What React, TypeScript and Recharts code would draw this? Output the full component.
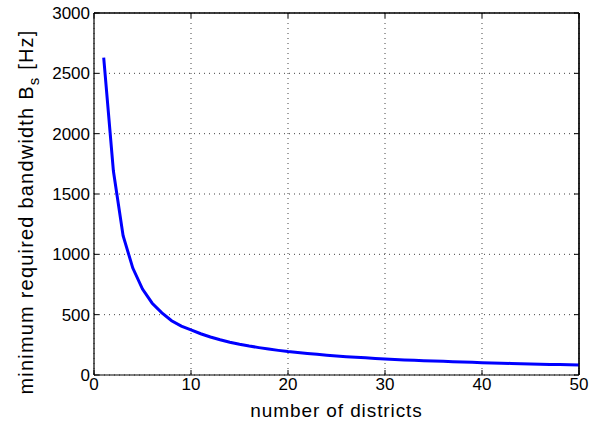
import { LineChart, Line, XAxis, YAxis, CartesianGrid, Label, ReferenceLine } from "recharts";

// number of districts (x) and the bandwidth (y, Hz)
const districts = [
  1, 2, 3, 4, 5, 6, 7, 8, 9, 10, 11, 12, 13, 14, 15, 16, 17, 18, 19, 20, 21, 22, 23, 24, 25,
  26, 27, 28, 29, 30, 31, 32, 33, 34, 35, 36, 37, 38, 39, 40, 41, 42, 43, 44, 45, 46, 47, 48, 49, 50,
];
const bandwidth = [
  2630, 1690, 1155, 886, 712, 595, 515, 450, 405, 374, 342, 315, 292, 272, 255, 240, 227, 215, 204, 194,
  186, 178, 171, 164, 158, 152, 147, 142, 137, 133, 129, 125, 122, 119, 116, 113, 110, 107, 105, 102,
  100, 98, 96, 94, 92, 90, 88, 86, 85, 83,
];
const xTicks = [0, 10, 20, 30, 40, 50];
const yTicks = [0, 500, 1000, 1500, 2000, 2500, 3000];

const FONT = "'Liberation Sans', Arial, Helvetica, sans-serif";

function YLabel(props: any) {
  const vb = props.viewBox;
  const cx = vb.x + 33;
  const cy = vb.y + vb.height / 2 + 18;
  return (
    <text
      x={cx}
      y={cy}
      transform={`rotate(-90 ${cx} ${cy})`}
      textAnchor="middle"
      fontFamily={FONT}
      fontSize={20}
      letterSpacing={1.2}
      fill="#000"
    >
      minimum required bandwidth B
      <tspan dy={6} fontSize={15}>s</tspan>
      <tspan dy={-6}> [Hz]</tspan>
    </text>
  );
}

export default function App() {
  const data = districts.map((d, i) => ({ districts: d, bandwidth: bandwidth[i] }));
  const axisLine = { stroke: "#000", strokeWidth: 1.2 };
  const tickStyle = { fill: "#000", fontSize: 17, fontFamily: FONT };

  return (
    <div style={{ position: "absolute", left: 0, top: 0, background: "#fff" }}>
      <LineChart width={598} height={424} data={data} margin={{ top: -7, right: -1, left: 0, bottom: 0 }}>
        <CartesianGrid stroke="#444" strokeDasharray="1 4" />
        <XAxis
          dataKey="districts"
          type="number"
          domain={[0, 50]}
          ticks={xTicks}
          height={49}
          axisLine={axisLine}
          tickLine={{ stroke: "#000" }}
          tickSize={-5}
          tickMargin={8}
          tick={tickStyle}
        >
          <Label
            value="number of districts"
            position="insideBottom"
            offset={7}
            style={{ fill: "#000", fontSize: 19, fontFamily: FONT, letterSpacing: 0.9 }}
          />
        </XAxis>
        <XAxis
          xAxisId="top"
          dataKey="districts"
          orientation="top"
          type="number"
          domain={[0, 50]}
          ticks={xTicks}
          height={20}
          axisLine={axisLine}
          tickLine={{ stroke: "#000" }}
          tickSize={-5}
          tickFormatter={() => ""}
        />
        <YAxis
          type="number"
          domain={[0, 3000]}
          ticks={yTicks}
          width={94}
          axisLine={axisLine}
          tickLine={{ stroke: "#000" }}
          tickSize={-5}
          tickMargin={9}
          tick={tickStyle}
        >
          <Label content={<YLabel />} />
        </YAxis>
        <YAxis
          yAxisId="right"
          orientation="right"
          type="number"
          domain={[0, 3000]}
          ticks={yTicks}
          width={20}
          axisLine={axisLine}
          tickLine={{ stroke: "#000" }}
          tickSize={-5}
          tickFormatter={() => ""}
        />
        {/* box edges, in case the mirrored axes are not drawn */}
        <ReferenceLine y={3000} stroke="#000" strokeWidth={1.2} />
        <ReferenceLine x={50} stroke="#000" strokeWidth={1.2} />
        {/* invisible twin so the mirrored top/right axes get a domain */}
        <Line
          xAxisId="top"
          yAxisId="right"
          type="linear"
          dataKey="bandwidth"
          stroke="none"
          dot={false}
          activeDot={false}
          legendType="none"
          isAnimationActive={false}
        />
        <Line
          type="linear"
          dataKey="bandwidth"
          stroke="#0000ff"
          strokeWidth={3}
          dot={false}
          isAnimationActive={false}
        />
      </LineChart>
    </div>
  );
}
